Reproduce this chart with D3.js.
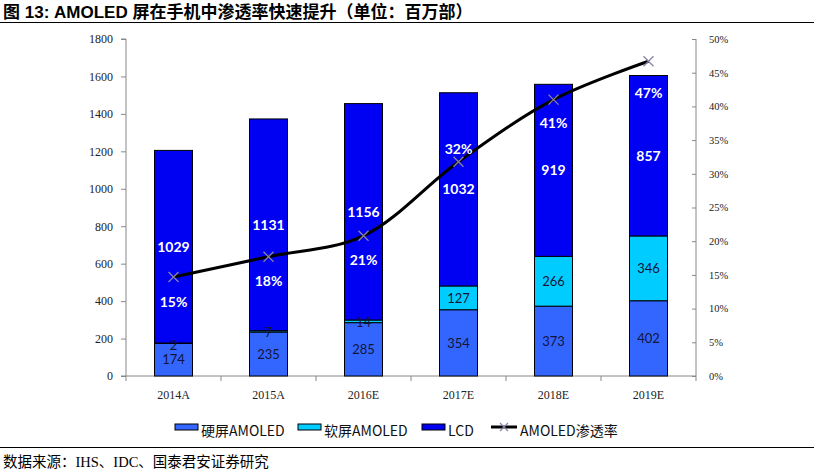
<!DOCTYPE html>
<html><head><meta charset="utf-8">
<script src="https://cdn.jsdelivr.net/npm/d3@7"></script>
<style>body{margin:0;background:#fff}svg{display:block}</style>
</head><body><svg id="c" width="814" height="474"></svg>
<script>
const categories = ["2014A","2015A","2016E","2017E","2018E","2019E"];
const hardAmoled = [174,235,285,354,373,402];
const softAmoled = [2,7,14,127,266,346];
const lcd = [1029,1131,1156,1032,919,857];
const penetration = [0.147,0.177,0.208,0.318,0.410,0.467];
const penetrationLabels = ["15%","18%","21%","32%","41%","47%"];
const leftTicks = [0,200,400,600,800,1000,1200,1400,1600,1800];
const rightTicks = [0,0.05,0.10,0.15,0.20,0.25,0.30,0.35,0.40,0.45,0.50];
const seriesNames = ["硬屏AMOLED","软屏AMOLED","LCD","AMOLED渗透率"];
const titleText = "图 13: AMOLED 屏在手机中渗透率快速提升（单位：百万部）";
const sourceText = "数据来源：IHS、IDC、国泰君安证券研究";

// layout / style
const pctLabelDy = [25,24,24,-13,23,32];
const colors = ["#3366FF","#00CCFF","#0000F2"];
const svg = d3.select("#c");
const L = 126, R = 696, T = 39, B = 376;

const x = d3.scaleBand().domain(categories).range([L,R]).paddingInner(0.6).paddingOuter(0.3);
const xc = d3.scaleBand().domain(categories).range([L,R]);
const y = d3.scaleLinear().domain([0,1800]).range([B,T]);
const y2 = d3.scaleLinear().domain([0,0.5]).range([B,T]);

// title
svg.append("text").attr("x",3).attr("y",18).attr("font-family","'Liberation Sans','Noto Sans CJK SC',sans-serif")
  .attr("font-weight","bold").attr("font-size",17).attr("fill","#000").text(titleText);
svg.append("line").attr("x1",0).attr("x2",814).attr("y1",22.5).attr("y2",22.5).attr("stroke","#000").attr("stroke-width",1.2);
svg.append("line").attr("x1",0).attr("x2",814).attr("y1",447.5).attr("y2",447.5).attr("stroke","#000").attr("stroke-width",1.2);
svg.append("text").attr("x",3).attr("y",467).attr("font-family","'Liberation Serif','Noto Sans CJK SC',serif")
  .attr("font-size",14.5).attr("fill","#000").text(sourceText);

// axes
const axisColor = "#888";
const gl = svg.append("g").attr("transform",`translate(${L},0)`)
  .call(d3.axisLeft(y).tickValues(leftTicks).tickSize(5).tickPadding(8).tickFormat(d3.format("d")));
const gr = svg.append("g").attr("transform",`translate(${R},0)`)
  .call(d3.axisRight(y2).tickValues(rightTicks).tickSizeInner(-4).tickSizeOuter(0).tickPadding(13).tickFormat(d3.format(".0%")));
const gx = svg.append("g").attr("transform",`translate(0,${B})`)
  .call(d3.axisBottom(xc).tickSize(0).tickPadding(14));
[gl,gr,gx].forEach(g=>{
  g.selectAll("path").attr("stroke",axisColor);
  g.selectAll("line").attr("stroke",axisColor);
  g.selectAll("text").attr("font-family","'Liberation Serif',serif").attr("font-size",12).attr("fill","#222");
});
gr.selectAll("text").attr("font-size",10.5);
gl.select("path").attr("d",`M-5,${T}H0V${B}H-5`);
gr.select("path").attr("d",`M0,${T}V${B}`);
gx.select("path").attr("d",`M${L},0H${R}`);
// category boundary ticks
gx.selectAll("line.b").data(d3.range(categories.length+1)).join("line").attr("class","b")
  .attr("x1",i=>L+i*xc.bandwidth()).attr("x2",i=>L+i*xc.bandwidth()).attr("y1",0).attr("y2",5).attr("stroke",axisColor);

// stacked bars
const rows = categories.map((c,i)=>({cat:c,hard:hardAmoled[i],soft:softAmoled[i],lcd:lcd[i]}));
const stack = d3.stack().keys(["hard","soft","lcd"])(rows);
const gb = svg.append("g");
stack.forEach((s,k)=>{
  gb.selectAll(null).data(s).join("rect")
    .attr("x",d=>x(d.data.cat)).attr("width",x.bandwidth())
    .attr("y",d=>y(d[1])).attr("height",d=>y(d[0])-y(d[1]))
    .attr("fill",colors[k]).attr("stroke","#000").attr("stroke-width",1);
});
// bar labels
const lblFont = "Lato,'Open Sans',sans-serif";
stack.forEach((s,k)=>{
  gb.selectAll(null).data(s).join("text")
    .attr("x",d=>x(d.data.cat)+x.bandwidth()/2)
    .attr("y",d=>{
      let cy=(y(d[0])+y(d[1]))/2;
      if(k===1 && y(d[0])-y(d[1])<12) cy=y(d[1])+2;
      return cy;
    })
    .attr("dy","0.36em").attr("text-anchor","middle")
    .attr("font-family",lblFont).attr("font-size",k===2?14:13)
    .attr("font-weight",k===2?"bold":"normal")
    .attr("fill",k===2?"#fff":"#141438")
    .text(d=>d[1]-d[0]);
});

// penetration line
const px = c => xc(c)+xc.bandwidth()/2;
const line = d3.line().x((d,i)=>px(categories[i])).y(d=>y2(d)).curve(d3.curveCatmullRom.alpha(0.5));
svg.append("path").datum(penetration).attr("d",line).attr("fill","none").attr("stroke","#000").attr("stroke-width",3);
const gm = svg.append("g");
penetration.forEach((p,i)=>{
  const cx=px(categories[i]), cy=y2(p), r=5;
  gm.append("path").attr("d",`M${cx-r},${cy-r}L${cx+r},${cy+r}M${cx-r},${cy+r}L${cx+r},${cy-r}`)
    .attr("stroke","#8a82a8").attr("stroke-width",1.3);
  gm.append("text").attr("x",cx).attr("y",cy+pctLabelDy[i]).attr("dy","0.36em").attr("text-anchor","middle")
    .attr("font-family",lblFont).attr("font-size",14).attr("font-weight","bold").attr("fill","#fff")
    .text(penetrationLabels[i]);
});

// legend
const lg = svg.append("g");
const legX = [175,298,422,491];
seriesNames.forEach((n,i)=>{
  if(i<3){
    lg.append("rect").attr("x",legX[i]).attr("y",424).attr("width",23).attr("height",6)
      .attr("fill",colors[i]).attr("stroke","#000").attr("stroke-width",1);
  } else {
    lg.append("line").attr("x1",legX[i]).attr("x2",legX[i]+26).attr("y1",427).attr("y2",427).attr("stroke","#000").attr("stroke-width",3);
    const cx=legX[i]+13, cy=427, r=4;
    lg.append("path").attr("d",`M${cx-r},${cy-r}L${cx+r},${cy+r}M${cx-r},${cy+r}L${cx+r},${cy-r}`).attr("stroke","#8a82a8").attr("stroke-width",1.2);
  }
  lg.append("text").attr("x",legX[i]+(i<3?26:29)).attr("y",431).attr("dy","0.36em")
    .attr("font-family","'Noto Sans CJK SC',sans-serif").attr("font-size",14).attr("fill","#111").text(n);
});
</script></body></html>
